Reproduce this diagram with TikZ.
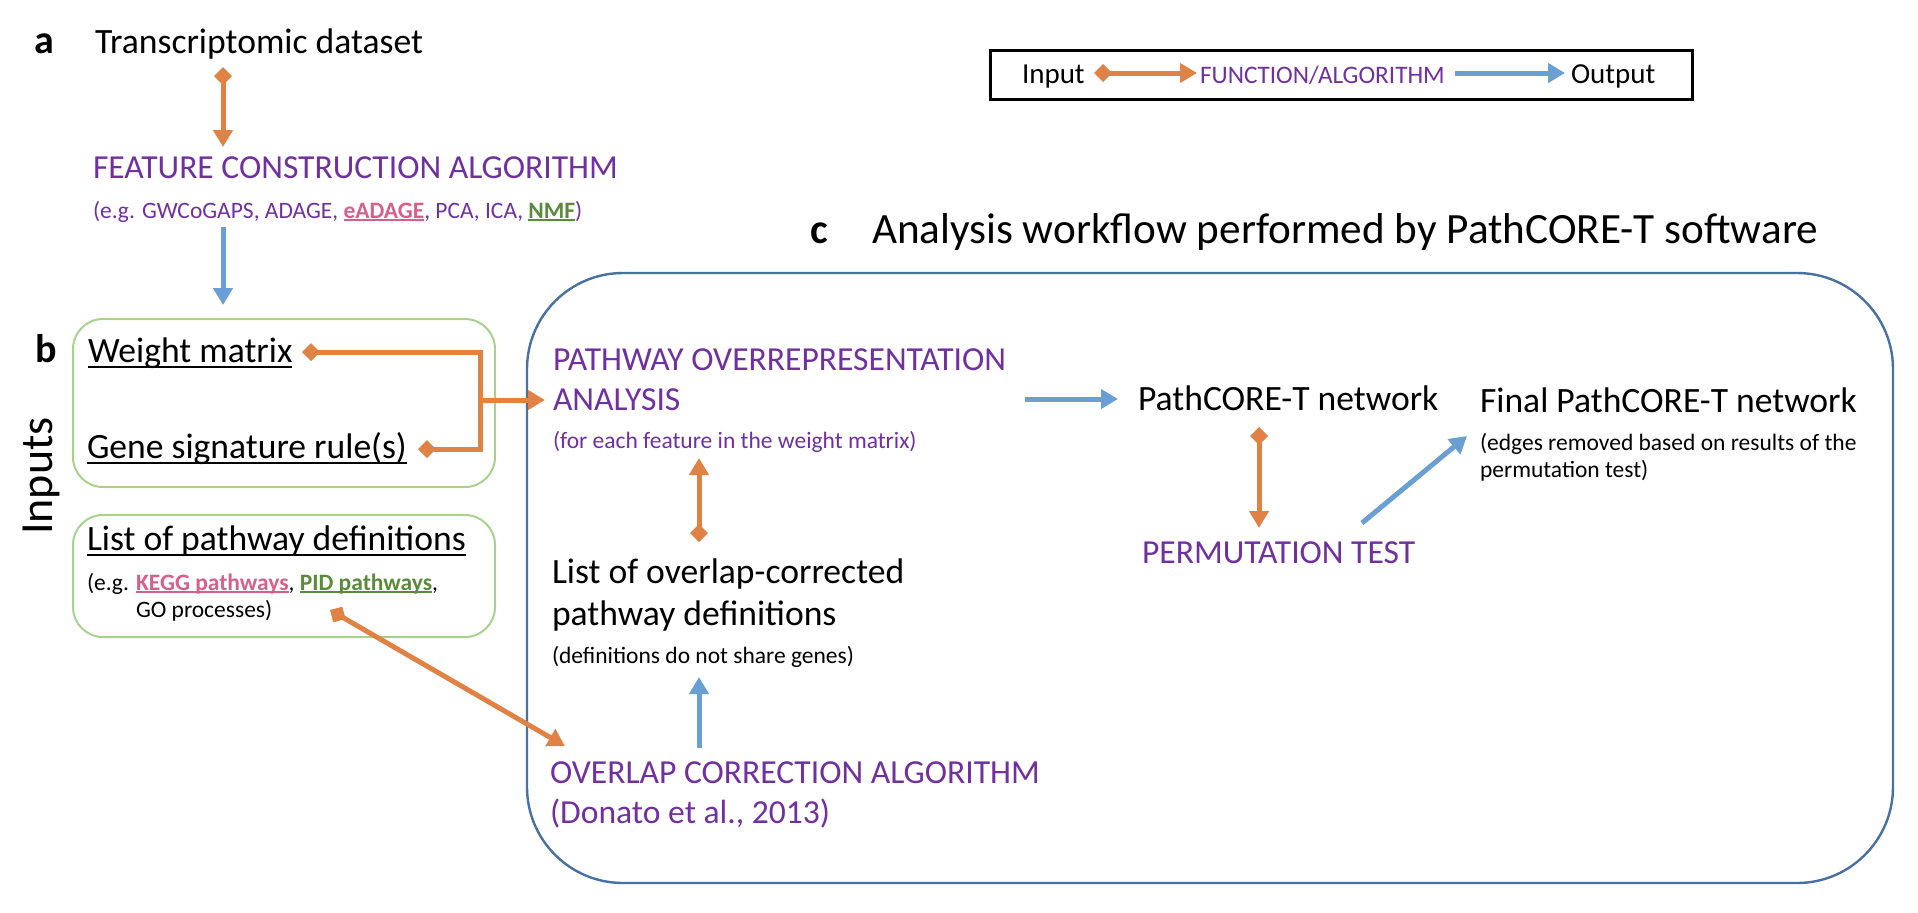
\documentclass[tikz,border=0pt]{standalone}
\usepackage{fontspec}
\setmainfont{Carlito}
\usetikzlibrary{arrows.meta}
\definecolor{orng}{HTML}{E08244}
\definecolor{blu}{HTML}{6A9FD4}
\definecolor{purp}{HTML}{7030A0}
\definecolor{gbox}{HTML}{A9D18E}
\definecolor{bbox}{HTML}{4870A0}
\definecolor{pnk}{HTML}{D6608A}
\definecolor{grn}{HTML}{5A8A3C}
\newsavebox\myulbox
\newcommand\myul[2]{\sbox\myulbox{#2}\rlap{\rule[-#1]{\wd\myulbox}{1pt}}\usebox\myulbox}
\tikzset{
  txt/.style={inner sep=0pt, outer sep=0pt, anchor=base west},
  big/.style={txt, font=\fontsize{17.8}{21}\selectfont},
  mid/.style={txt, font=\fontsize{16.8}{20}\selectfont},
  small/.style={txt, font=\fontsize{11.75}{14}\selectfont},
  lbl/.style={txt, font=\fontsize{20}{24}\selectfont\bfseries},
  olink/.style={draw=orng, line width=2.5pt, line join=miter},
  oarrow/.style={olink, -{Triangle[length=8.5pt,width=9.5pt]}},
  odouble/.style={olink, {Diamond[length=9pt,width=9pt]}-{Triangle[length=8.5pt,width=9.5pt]}},
  barrow/.style={draw=blu, line width=2.5pt, -{Triangle[length=8.5pt,width=9.5pt]}},
  greenbox/.style={draw=gbox, line width=1pt, rounded corners=15pt},
  bluebox/.style={draw=bbox, line width=1.2pt, rounded corners=48pt},
}
\begin{document}
\begin{tikzpicture}[x=0.5pt,y=-0.5pt]
\useasboundingbox (0,0) rectangle (1918,912);

% ---- panel a
\node[lbl] (la) at (34,53) {a};
\node[big] (tds) at (95,53) {Transcriptomic dataset};
\node[mid, text=purp] (fca) at (93,178) {FEATURE CONSTRUCTION ALGORITHM};
\node[small, text=purp] (fcaeg) at (93,218) {(e.g. GWCoGAPS, ADAGE, {\color{pnk}\myul{1.5pt}{\bfseries eADAGE}}, PCA, ICA, {\color{grn}\myul{1.5pt}{\bfseries NMF}})};

\coordinate (a1) at (223,67);
\coordinate (a2) at (223,147);
\draw[odouble] (a1) -- (a2);
\coordinate (a3) at (223,227);
\coordinate (a4) at (223,305);
\draw[barrow] (a3) -- (a4);

% ---- legend
\node[draw=black, line width=1.4pt, minimum width=351pt, minimum height=24.5pt, inner sep=0pt, anchor=north west] (leg) at (989,49) {};
\node[txt, font=\fontsize{14.5}{17}\selectfont] (lin) at (1022,83) {Input};
\node[txt, font=\fontsize{12.6}{15}\selectfont, text=purp] (lfn) at (1200,83) {FUNCTION/ALGORITHM};
\node[txt, font=\fontsize{14.5}{17}\selectfont] (lout) at (1571,83) {Output};
\coordinate (l1) at (1094,73);
\coordinate (l2) at (1197,73);
\coordinate (l3) at (1455,73);
\coordinate (l4) at (1565,73);
\draw[odouble] (l1) -- (l2);
\draw[barrow] (l3) -- (l4);

% ---- panel b
\node[lbl] (lb) at (35,362) {b};
\node[txt, font=\fontsize{23}{27}\selectfont, rotate=90, anchor=base] (inp) at (52,476) {Inputs};
\draw[greenbox] (73,319) rectangle (495,487);
\draw[greenbox] (73,515) rectangle (495,637);
\node[big] (wm) at (88,362) {\myul{3pt}{Weight matrix}};
\node[big] (gs) at (87,458) {\myul{3pt}{Gene signature rule(s)}};
\node[big] (lpd) at (87,550) {\myul{3pt}{List of pathway definitions}};
\node[small] (lpdeg) at (87,590) {(e.g. {\color{pnk}\myul{1.5pt}{\bfseries KEGG pathways}}, {\color{grn}\myul{1.5pt}{\bfseries PID pathways}},};
\node[small] (lpdeg2) at (136,617) {GO processes)};

% ---- panel c
\node[lbl, font=\fontsize{21}{25}\selectfont\bfseries] (lc) at (810,243) {c};
\node[txt, font=\fontsize{21.6}{26}\selectfont] (title) at (872,243) {Analysis workflow performed by PathCORE-T software};
\draw[bluebox] (527,273) rectangle (1893,883);

\node[mid, text=purp] (poa1) at (553,370) {PATHWAY OVERREPRESENTATION};
\node[mid, text=purp] (poa2) at (553,410) {ANALYSIS};
\node[small, text=purp] (poa3) at (553,448) {(for each feature in the weight matrix)};

\node[big] (loc1) at (552,583) {List of overlap-corrected};
\node[big] (loc2) at (552,625) {pathway definitions};
\node[small] (loc3) at (552,663) {(definitions do not share genes)};

\node[mid, text=purp] (oca1) at (550,783) {OVERLAP CORRECTION ALGORITHM};
\node[mid, text=purp] (oca2) at (550,823) {(Donato et al., 2013)};

\node[big] (pnet) at (1138,410) {PathCORE-T network};
\node[mid, text=purp] (perm) at (1142,563) {PERMUTATION TEST};
\node[big] (fnet) at (1480,412) {Final PathCORE-T network};
\node[small] (fnet2) at (1480,450) {(edges removed based on results of the};
\node[small] (fnet3) at (1480,477) {permutation test)};

% ---- connectors
\coordinate (w1) at (302,352);
\coordinate (wc1) at (480,352);
\coordinate (wc2) at (480,449);
\coordinate (g1) at (418,449);
\coordinate (wj) at (480,400);
\coordinate (wt) at (545,400);
\draw[olink, {Diamond[length=9pt,width=9pt]}-{Diamond[length=9pt,width=9pt]}] (w1) -- (wc1) -- (wc2) -- (g1);
\draw[oarrow] (wj) -- (wt);

\coordinate (p1) at (330,610);
\coordinate (p2) at (565,746);
\draw[odouble] (p1) -- (p2);

\coordinate (o1) at (699,542);
\coordinate (o2) at (699,458);
\draw[odouble] (o1) -- (o2);

\coordinate (o3) at (699,748);
\coordinate (o4) at (699,677);
\draw[barrow] (o3) -- (o4);

\coordinate (n1) at (1025,399);
\coordinate (n2) at (1118,399);
\draw[barrow] (n1) -- (n2);

\coordinate (n3) at (1259,427);
\coordinate (n4) at (1259,528);
\draw[odouble] (n3) -- (n4);

\coordinate (n5) at (1362,523);
\coordinate (n6) at (1467,436);
\draw[barrow] (n5) -- (n6);
\end{tikzpicture}
\end{document}
